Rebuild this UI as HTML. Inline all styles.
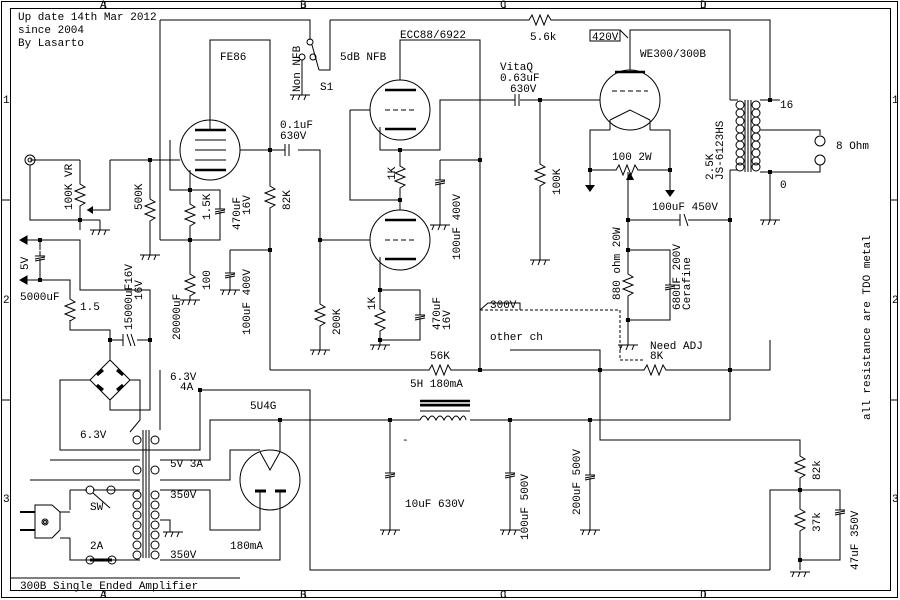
<!DOCTYPE html><html><head><style>body{margin:0;background:#fff}svg{display:block}text{font-family:"Liberation Mono",monospace;font-size:11px;fill:#000}</style></head><body>
<svg width="900" height="600" viewBox="0 0 900 600" xmlns="http://www.w3.org/2000/svg" fill="none" stroke="#000" stroke-width="1">
<defs>
<symbol id="rv" viewBox="0 0 12 30" width="12" height="30" overflow="visible"><path d="M6 0 L6 4 L11 7 L1 11 L11 15 L1 19 L11 23 L6 26 L6 30" stroke="#000" fill="none"/></symbol>
<symbol id="rh" viewBox="0 0 30 12" width="30" height="12" overflow="visible"><path d="M0 6 L4 6 L7 1 L11 11 L15 1 L19 11 L23 1 L26 6 L30 6" stroke="#000" fill="none"/></symbol>
<symbol id="gnd" viewBox="0 0 20 10" width="20" height="10" overflow="visible"><path d="M0 0 H20 M4 0 L2 5 M10 0 L8 5 M16 0 L14 5" stroke="#000"/></symbol>
<symbol id="cv" viewBox="0 0 12 14" width="12" height="14" overflow="visible"><path d="M1 5 H11 M1 8 L11 6 M1 10 L11 8 M6 0 V5 M6 8 V14" stroke="#000"/></symbol>
</defs>
<rect x="1.5" y="1.5" width="896" height="596"/><rect x="10.5" y="8.5" width="880" height="582"/>
<path d="M10 578 H240 M105 1V8 M305 1V8 M505 1V8 M705 1V8 M105 590V598 M305 590V598 M505 590V598 M705 590V598 M1 200H10 M1 400H10 M890 200H898 M890 400H898"/>
<g stroke="none"><text x="100" y="8" font-size="9">A</text><text x="300" y="8" font-size="9">B</text><text x="500" y="8" font-size="9">C</text><text x="700" y="8" font-size="9">D</text>
<text x="100" y="598" font-size="9">A</text><text x="300" y="598" font-size="9">B</text><text x="500" y="598" font-size="9">C</text><text x="700" y="598" font-size="9">D</text>
<text x="3" y="103" font-size="9">1</text><text x="3" y="303" font-size="9">2</text><text x="3" y="502" font-size="9">3</text>
<text x="892" y="103" font-size="9">1</text><text x="892" y="303" font-size="9">2</text><text x="892" y="502" font-size="9">3</text>
<text x="18" y="20">Up date 14th Mar 2012</text><text x="18" y="33">since 2004</text><text x="18" y="46">By Lasarto</text>
<text x="20" y="589">300B Single Ended Amplifier</text>
<text x="220" y="60">FE86</text><text x="400" y="38">ECC88/6922</text><text x="340" y="60">5dB NFB</text><text x="320" y="90">S1</text>
<text x="500" y="70">VitaQ</text><text x="500" y="81">0.63uF</text><text x="510" y="92">630V</text>
<text x="640" y="57">WE300/300B</text><text x="530" y="40">5.6k</text>
<text x="280" y="128">0.1uF</text><text x="280" y="139">630V</text>
<text x="612" y="160">100 2W</text><text x="652" y="210">100uF 450V</text>
<text x="780" y="108">16</text><text x="836" y="149">8 Ohm</text><text x="780" y="188">0</text>
<text x="490" y="340">other ch</text><text x="650" y="349">Need ADJ</text><text x="650" y="359">8K</text><text x="430" y="359">56K</text>
<text x="410" y="387">5H 180mA</text><text x="170" y="380">6.3V</text><text x="180" y="390">4A</text><text x="250" y="409">5U4G</text>
<text x="80" y="438">6.3V</text><text x="170" y="467">5V 3A</text><text x="170" y="498">350V</text><text x="170" y="558">350V</text>
<text x="230" y="549">180mA</text><text x="90" y="510">SW</text><text x="90" y="549">2A</text><text x="405" y="507">10uF 630V</text><text x="402" y="443">-</text>
<text x="20" y="300">5000uF</text><text x="80" y="310">1.5</text>
<text x="490" y="308" font-size="10">300V</text><text x="592" y="40" font-size="10">420V</text>
</g>
<g stroke="none">
<text transform="translate(300 92) rotate(-90)">Non NFB</text>
<text transform="translate(72 210) rotate(-90)">100K VR</text>
<text transform="translate(142 210) rotate(-90)">500K</text>
<text transform="translate(210 220) rotate(-90)">1.5K</text>
<text transform="translate(240 230) rotate(-90)">470uF</text><text transform="translate(250 215) rotate(-90)">16V</text>
<text transform="translate(290 210) rotate(-90)">82K</text>
<text transform="translate(210 290) rotate(-90)">100</text>
<text transform="translate(180 340) rotate(-90)">20000uF</text>
<text transform="translate(250 335) rotate(-90)">100uF 400V</text>
<text transform="translate(340 335) rotate(-90)">200K</text>
<text transform="translate(395 180) rotate(-90)">1K</text>
<text transform="translate(375 310) rotate(-90)">1K</text>
<text transform="translate(440 330) rotate(-90)">470uF</text><text transform="translate(450 330) rotate(-90)">16V</text>
<text transform="translate(460 260) rotate(-90)">100uF 400V</text>
<text transform="translate(560 195) rotate(-90)">100K</text>
<text transform="translate(713 180) rotate(-90)">2.5K</text><text transform="translate(723 180) rotate(-90)">JS-6123HS</text>
<text transform="translate(620 300) rotate(-90)">880 ohm 20W</text>
<text transform="translate(680 310) rotate(-90)">680uF 200V</text><text transform="translate(690 310) rotate(-90)">Cerafine</text>
<text transform="translate(870 420) rotate(-90)">all resistance are TDO metal</text>
<text transform="translate(28 270) rotate(-90)">5V</text>
<text transform="translate(132 330) rotate(-90)">15000uF16V</text><text transform="translate(142 300) rotate(-90)">16V</text>
<text transform="translate(528 540) rotate(-90)">100uF 500V</text>
<text transform="translate(580 515) rotate(-90)">200uF 500V</text>
<text transform="translate(820 480) rotate(-90)">82k</text>
<text transform="translate(820 532) rotate(-90)">37k</text>
<text transform="translate(858 570) rotate(-90)">47uF 350V</text>
</g>
<!-- tubes -->
<circle cx="210" cy="150" r="30"/><circle cx="400" cy="110" r="30"/><circle cx="400" cy="240" r="30"/><circle cx="630" cy="100" r="30"/><circle cx="270" cy="480" r="30"/>
<path d="M195 140H226 M195 150H226 M195 160H226"/>
<path d="M195 130H226 M195 170H226 M385 90H416 M385 129H416 M385 220H416 M385 259H416 M615 72H645" stroke-width="2.5"/>
<path d="M385 110H416 M385 240H416 M612 91H648" stroke-dasharray="5,3"/>
<path d="M610 120L630 110L650 120 M610 120V130 M650 120V130 M260 452L270 470L280 452" />
<path d="M255 491H266 M275 491H286" stroke-width="3"/>
<!-- wiring top -->
<path d="M160 20H310V40 M330 20V70H319 M330 20H525 M555 20H770V100 M160 20V240 M210 130V40H270V150 M240 150H285 M298 150H320V240H370 M270 150V182 M270 212V370 M170 140V190H220V204 M220 218V240H160 M190 170V190 M190 190V200 M190 230V240 M190 240V270 M110 160H180 M110 160V210H87 M30 165V220H80 M80 160V180 M80 210V230 M100 220V230 M80 220H100 M150 160V195 M150 225V255 M30 160H80 M230 250H270 M230 250V268 M230 282V290 M320 240V300 M320 330V350"/>
<path d="M400 80V40H480V370 M350 110H370 M350 110V200H400 M380 127V150H440V100H515 M400 150V162 M400 192V210 M380 257V290H420V310 M420 324V340H380 M380 290V305 M380 335V345 M440 160H480 M440 160V175 M440 189V225 M270 370H425 M455 370H640 M670 370H770V340 M520 100H600 M540 100V160 M540 190V260"/>
<path d="M630 70V30H730V100 M610 130H590V185 M650 130H670V190 M590 170H612 M642 170H670 M628 172V220 M628 220H680 M688 220H730 M730 170V420H590 M628 220V270 M628 300V345 M628 250H670V280 M670 294V320H628 M510 350H600V440H800V455 M730 100H738 M730 170H738 M760 100H770H780 M760 130H820V135 M820 165V172H760 M770 172V220"/>
<path d="M480 310H620 V360H645" stroke-dasharray="3,2"/>
<path d="M480 310L488 303H520V310"/><rect x="590" y="30" width="30" height="11"/><path d="M620 30L628 38"/>
<!-- OT -->
<path d="M745 100V172 M748 100V172 M751 100V172"/>
<g><circle cx="740" cy="105" r="4"/><circle cx="740" cy="113" r="4"/><circle cx="740" cy="121" r="4"/><circle cx="740" cy="129" r="4"/><circle cx="740" cy="137" r="4"/><circle cx="740" cy="145" r="4"/><circle cx="740" cy="153" r="4"/><circle cx="740" cy="161" r="4"/><circle cx="740" cy="167" r="4"/>
<circle cx="756" cy="105" r="4"/><circle cx="756" cy="113" r="4"/><circle cx="756" cy="121" r="4"/><circle cx="756" cy="129" r="4"/><circle cx="756" cy="137" r="4"/><circle cx="756" cy="145" r="4"/><circle cx="756" cy="153" r="4"/><circle cx="756" cy="161" r="4"/><circle cx="756" cy="167" r="4"/></g>
<circle cx="820" cy="141" r="5"/><circle cx="820" cy="160" r="5"/><circle cx="30" cy="160" r="5"/><circle cx="30" cy="160" r="2"/>
<!-- PSU left -->
<path d="M20 240H80V290H150V410H110V400 M20 280H70V295 M70 320V330H110V360 M110 340H123 M137 340H150 M110 360L90 380L110 400L130 380Z M90 380H60V450H200V390 M130 380H140V420L130 432 M40 240V250 M40 265V280 M160 370V430 M200 390H310V570H770"/>
<path d="M97 375L103 370 M117 370L123 375 M97 385L103 390 M117 390L123 385" stroke-width="3"/>
<path d="M20 240L27 236V244Z M20 280L27 276V284Z" fill="#000"/>
<path d="M123 334V346 M127 334L131 346 M131 334L135 346"/>
<!-- power transformer -->
<path d="M143 430V558 M146 430V558 M149 430V558"/>
<g><circle cx="137" cy="440" r="4"/><circle cx="155" cy="440" r="4"/><circle cx="137" cy="470" r="4"/><circle cx="155" cy="470" r="4"/>
<circle cx="137" cy="495" r="4"/><circle cx="137" cy="505" r="4"/><circle cx="137" cy="515" r="4"/><circle cx="137" cy="525" r="4"/><circle cx="137" cy="535" r="4"/><circle cx="137" cy="545" r="4"/><circle cx="137" cy="555" r="4"/>
<circle cx="155" cy="495" r="4"/><circle cx="155" cy="505" r="4"/><circle cx="155" cy="515" r="4"/><circle cx="155" cy="525" r="4"/><circle cx="155" cy="535" r="4"/><circle cx="155" cy="545" r="4"/><circle cx="155" cy="555" r="4"/></g>
<path d="M160 430V420 M160 450H200 M50 460H140 M30 480H140 M160 460H210V420H280 M160 480H230V450H260 M280 420V452 M70 490H87 M93 490H140 M70 490V510 M60 512H70 M60 538H70 M70 538V560H140 M160 490H210V530H260V491 M160 520H170V532 M160 560H280V491 M93 560H113"/>
<circle cx="90" cy="490" r="4"/><circle cx="111" cy="490" r="4"/><path d="M93 493L110 508"/><circle cx="90" cy="560" r="4"/><circle cx="112" cy="560" r="4"/>
<path d="M90 560H112" stroke-width="3"/>
<path d="M20 512H35 M20 530H35" stroke-width="2"/>
<path d="M35 505H52L60 512V530L52 538H35Z"/><circle cx="45" cy="522" r="3"/><circle cx="45" cy="522" r="1.5"/>
<!-- HV line -->
<path d="M280 420H420 M470 420H730 M390 420V468 M390 482V530 M510 420V468 M510 482V530 M590 420V470 M590 484V530 M770 570V490H840V505 M840 519V560H800 M800 480V505 M800 535V570"/>
<path d="M420 420 q4 -8 8 0 q4 -8 8 0 q4 -8 8 0 q4 -8 8 0 q4 -8 8 0 q4 -8 6 0 M420 406H470 M420 411H470" />
<path d="M420 401H470 M420 405H470" stroke-width="2.5"/>
<!-- resistors -->
<use href="#rh" x="525" y="14"/><use href="#rh" x="425" y="364"/><use href="#rh" x="640" y="364"/><use href="#rh" x="612" y="164"/>
<use href="#rv" x="74" y="180"/><use href="#rv" x="144" y="195"/><use href="#rv" x="184" y="200"/><use href="#rv" x="184" y="270"/>
<use href="#rv" x="264" y="182"/><use href="#rv" x="314" y="300"/><use href="#rv" x="394" y="162"/><use href="#rv" x="374" y="305"/>
<use href="#rv" x="534" y="160"/><use href="#rv" x="622" y="270"/><use href="#rv" x="64" y="295"/><use href="#rv" x="794" y="452"/><use href="#rv" x="794" y="505"/>
<path d="M87 210L93 206V214Z M630 172L626 180H634Z" fill="#000" stroke="none"/>
<!-- caps -->
<path d="M285 144V156 M289 144V156 M515 94V106 M519 94V106 M680 214V226 M684 214L688 226"/>
<use href="#cv" x="214" y="204"/><use href="#cv" x="224" y="268"/><use href="#cv" x="434" y="175"/><use href="#cv" x="414" y="310"/><use href="#cv" x="664" y="280"/>
<use href="#cv" x="384" y="468"/><use href="#cv" x="504" y="468"/><use href="#cv" x="584" y="470"/><use href="#cv" x="834" y="505"/><use href="#cv" x="34" y="251"/>
<!-- grounds -->
<use href="#gnd" x="90" y="230"/><use href="#gnd" x="140" y="255"/><use href="#gnd" x="180" y="300"/><use href="#gnd" x="220" y="290"/><use href="#gnd" x="290" y="95"/>
<use href="#gnd" x="310" y="350"/><use href="#gnd" x="370" y="345"/><use href="#gnd" x="430" y="225"/><use href="#gnd" x="530" y="260"/><use href="#gnd" x="618" y="345"/>
<use href="#gnd" x="760" y="220"/><use href="#gnd" x="380" y="530"/><use href="#gnd" x="500" y="530"/><use href="#gnd" x="580" y="530"/><use href="#gnd" x="790" y="572"/><use href="#gnd" x="163" y="532"/>
<path d="M302 60V95"/>
<circle cx="310" cy="42" r="3"/><circle cx="302" cy="57" r="3"/><circle cx="313" cy="57" r="3"/><path d="M312 45L319 70"/>
<g fill="#000" stroke="none">
<rect x="148" y="158" width="4" height="4"/><rect x="188" y="188" width="4" height="4"/><rect x="188" y="238" width="4" height="4"/><rect x="268" y="148" width="4" height="4"/><rect x="268" y="248" width="4" height="4"/><rect x="318" y="238" width="4" height="4"/><rect x="398" y="148" width="4" height="4"/><rect x="398" y="198" width="4" height="4"/><rect x="378" y="288" width="4" height="4"/><rect x="378" y="338" width="4" height="4"/><rect x="478" y="158" width="4" height="4"/><rect x="538" y="98" width="4" height="4"/><rect x="588" y="168" width="4" height="4"/><rect x="668" y="168" width="4" height="4"/><rect x="626" y="218" width="4" height="4"/><rect x="626" y="248" width="4" height="4"/><rect x="626" y="318" width="4" height="4"/><rect x="728" y="218" width="4" height="4"/><rect x="768" y="98" width="4" height="4"/><rect x="768" y="170" width="4" height="4"/><rect x="78" y="218" width="4" height="4"/><rect x="478" y="368" width="4" height="4"/><rect x="598" y="368" width="4" height="4"/><rect x="728" y="368" width="4" height="4"/><rect x="388" y="418" width="4" height="4"/><rect x="508" y="418" width="4" height="4"/><rect x="588" y="418" width="4" height="4"/><rect x="278" y="418" width="4" height="4"/><rect x="198" y="388" width="4" height="4"/><rect x="798" y="488" width="4" height="4"/><rect x="798" y="558" width="4" height="4"/><rect x="38" y="238" width="4" height="4"/><rect x="38" y="278" width="4" height="4"/><rect x="108" y="338" width="4" height="4"/><rect x="148" y="338" width="4" height="4"/>
<path d="M585 185H595L590 192Z M665 190H675L670 197Z"/>
</g>
</svg></body></html>
